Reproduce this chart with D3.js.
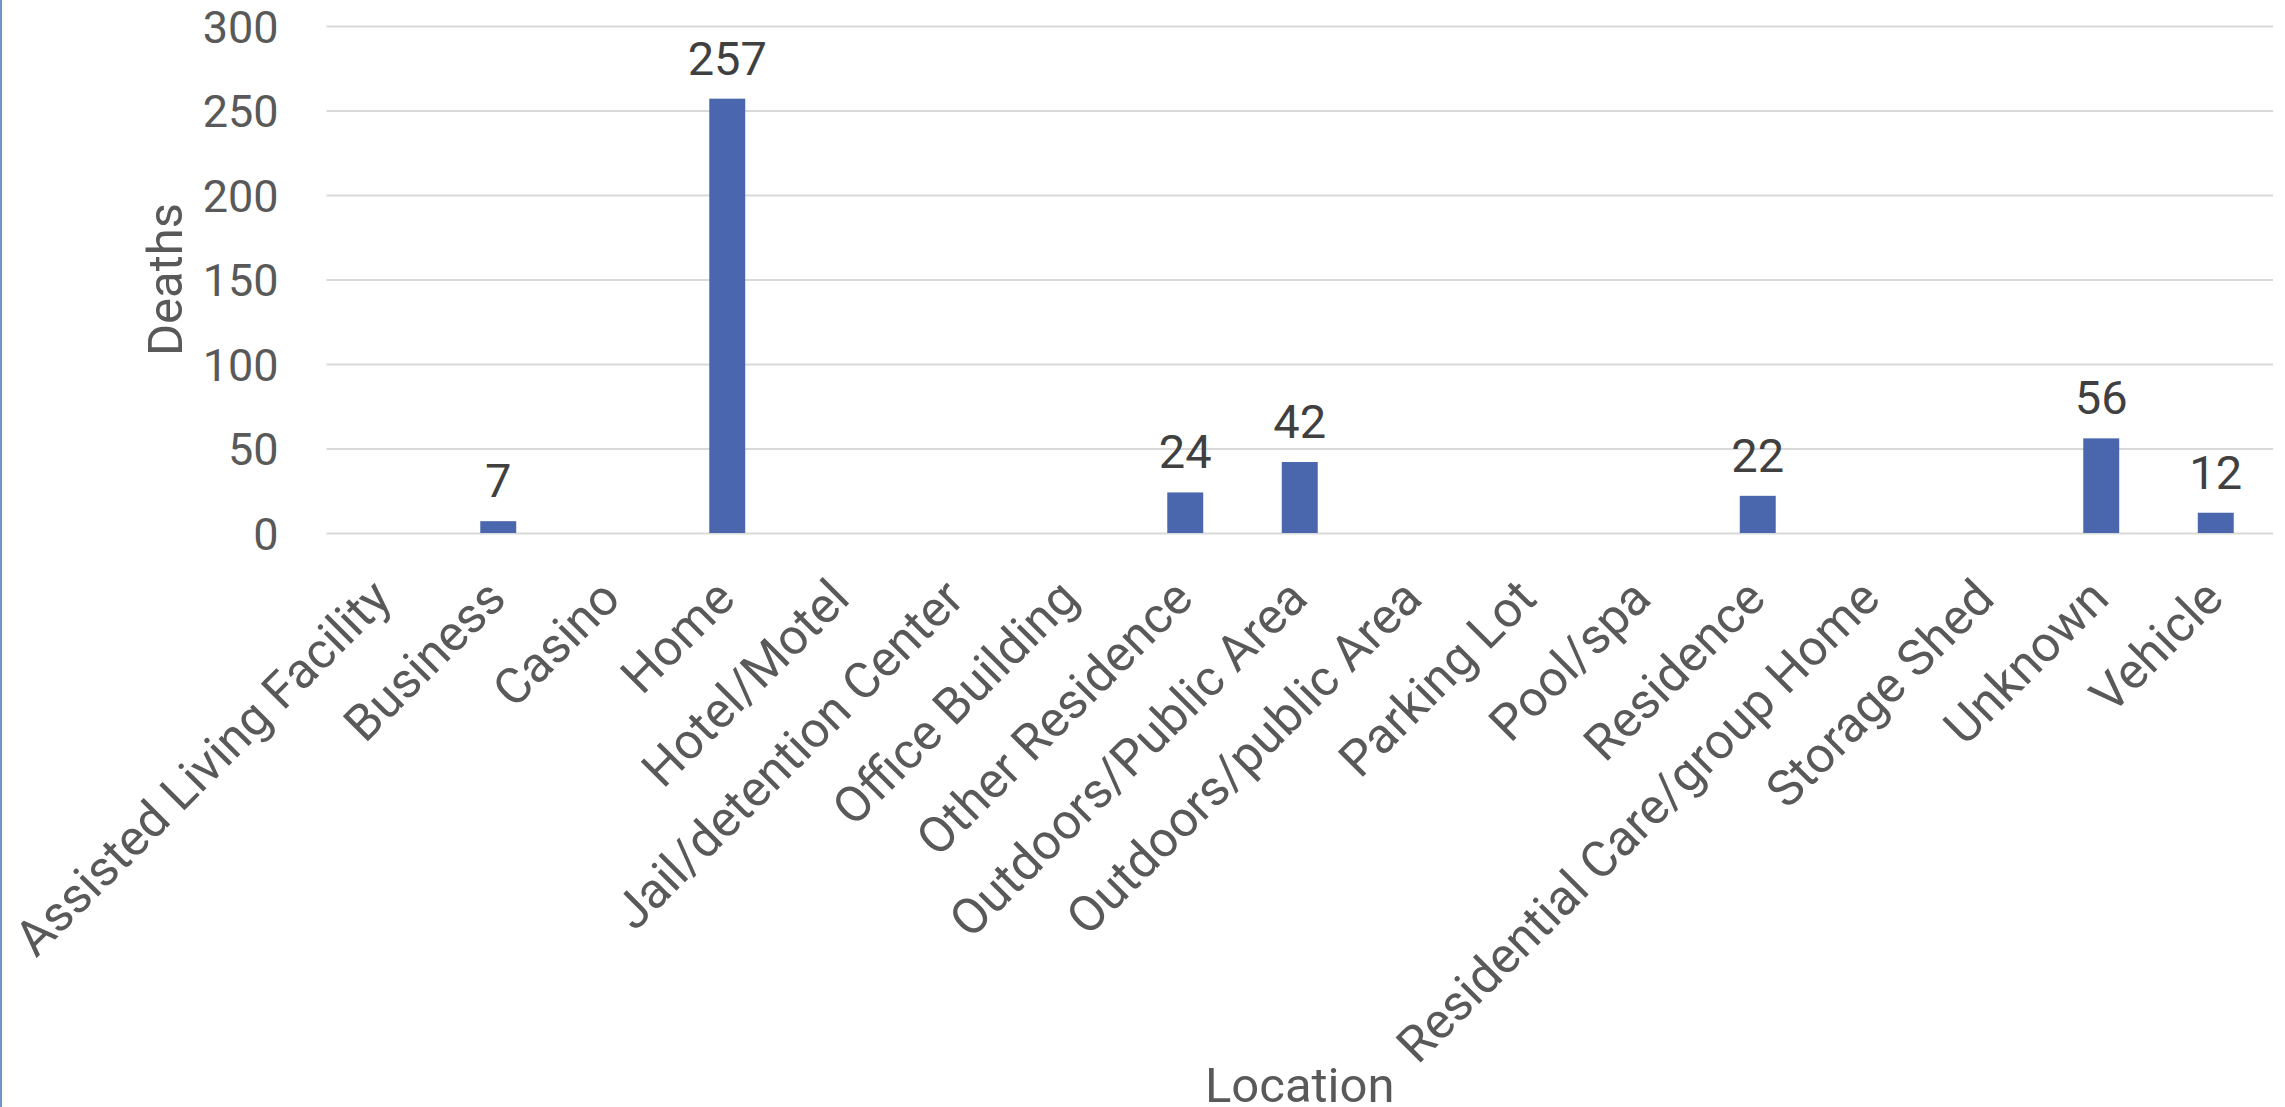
<!DOCTYPE html>
<html>
<head>
<meta charset="utf-8">
<script src="https://cdn.jsdelivr.net/npm/d3@7"></script>
<style>
  html, body { margin: 0; padding: 0; background: #ffffff; overflow: hidden; }
  svg { display: block; font-family: Roboto, "Open Sans", sans-serif; }
</style>
</head>
<body>
<svg id="chart" width="2285" height="1107"></svg>
<script>
const categories = [
  "Assisted Living Facility", "Business", "Casino", "Home", "Hotel/Motel",
  "Jail/detention Center", "Office Building", "Other Residence",
  "Outdoors/Public Area", "Outdoors/public Area", "Parking Lot", "Pool/spa",
  "Residence", "Residential Care/group Home", "Storage Shed", "Unknown", "Vehicle"
];
const deaths = [0, 7, 0, 257, 0, 0, 0, 24, 42, 0, 0, 0, 22, 0, 0, 56, 12];
const yTicks = [0, 50, 100, 150, 200, 250, 300];
const yTitle = "Deaths";
const xTitle = "Location";

const W = 2285, H = 1107;
const plot = { left: 326.5, right: 2273, top: 26, bottom: 533 };

const svg = d3.select("#chart");

// left edge accent line
svg.append("rect").attr("x", 0).attr("y", 0).attr("width", 2).attr("height", H).attr("fill", "#7293c6");

const x = d3.scaleBand()
  .domain(categories)
  .range([plot.left, plot.right])
  .paddingInner(0.686)
  .paddingOuter(0.343);

const y = d3.scaleLinear().domain([0, 300]).range([plot.bottom, plot.top]);

// gridlines + y tick labels via axis
const yAxis = d3.axisLeft(y).tickValues(yTicks).tickSize(-(plot.right - plot.left)).tickPadding(48);
const gy = svg.append("g").attr("transform", `translate(${plot.left},0)`).call(yAxis);
gy.select(".domain").remove();
gy.selectAll(".tick line").attr("stroke", "#d9d9d9").attr("stroke-width", 2);
gy.selectAll(".tick text")
  .attr("fill", "#595959")
  .attr("font-size", 45)
  .attr("font-family", "Roboto, sans-serif")
  .attr("dy", "0.36em");

// bars
svg.append("g").selectAll("rect").data(categories).join("rect")
  .attr("x", d => x(d))
  .attr("width", x.bandwidth())
  .attr("y", (d, i) => y(deaths[i]))
  .attr("height", (d, i) => y(0) - y(deaths[i]))
  .attr("fill", "#4a66ac");

// data labels (non-zero)
svg.append("g").selectAll("text").data(categories.map((c, i) => ({ c, v: deaths[i] })).filter(d => d.v > 0)).join("text")
  .attr("x", d => x(d.c) + x.bandwidth() / 2)
  .attr("y", d => y(d.v) - 24)
  .attr("text-anchor", "middle")
  .attr("font-size", 47)
  .attr("fill", "#404040")
  .text(d => d.v);

// x axis category labels
const xAxis = d3.axisBottom(x).tickSize(0).tickPadding(0);
const gx = svg.append("g").attr("transform", `translate(0,${plot.bottom})`).call(xAxis);
gx.select(".domain").remove();
gx.selectAll(".tick text")
  .attr("font-size", 50)
  .attr("font-family", "Roboto, sans-serif")
  .attr("fill", "#595959")
  .attr("text-anchor", "end")
  .attr("x", 0).attr("y", 0).attr("dy", 0)
  .attr("transform", "translate(10,68) rotate(-45)");

// axis titles
svg.append("text")
  .attr("transform", `translate(182,${(plot.top + plot.bottom) / 2}) rotate(-90)`)
  .attr("text-anchor", "middle")
  .attr("font-size", 49)
  .attr("fill", "#595959")
  .text(yTitle);

svg.append("text")
  .attr("x", (plot.left + plot.right) / 2)
  .attr("y", 1102)
  .attr("text-anchor", "middle")
  .attr("font-size", 49)
  .attr("fill", "#595959")
  .text(xTitle);
</script>
</body>
</html>
